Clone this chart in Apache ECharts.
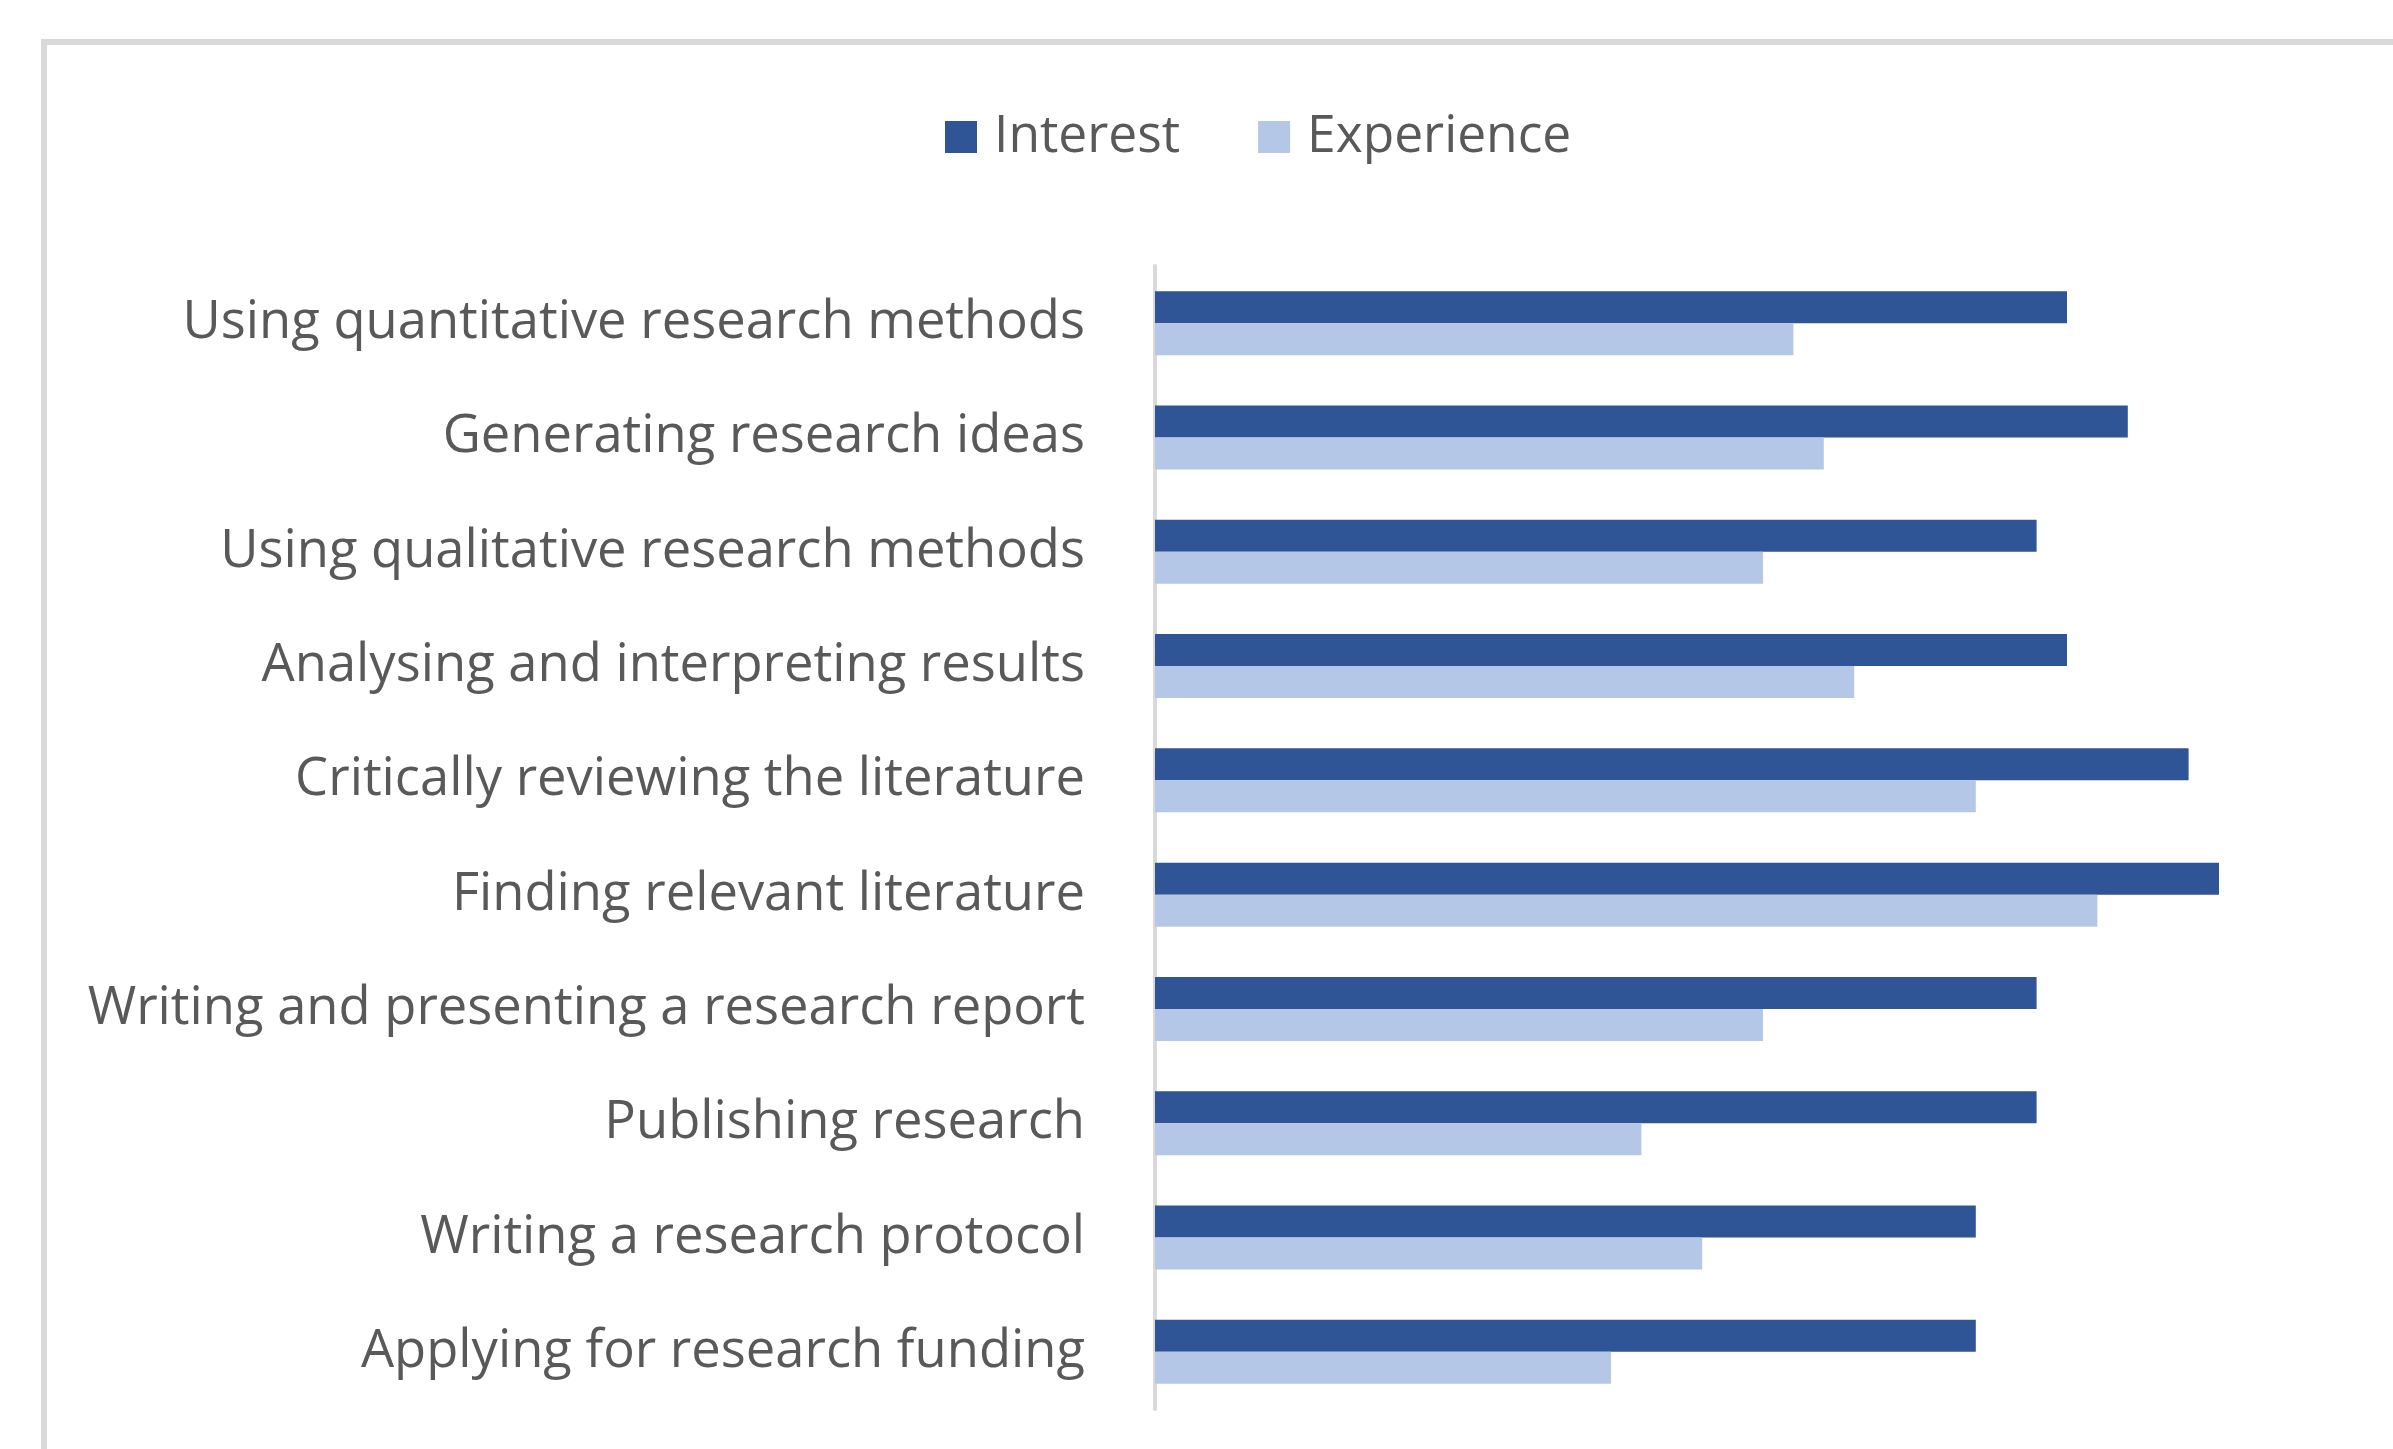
<!DOCTYPE html>
<html>
<head>
<meta charset="utf-8">
<script src="https://cdn.jsdelivr.net/npm/echarts@6/dist/echarts.min.js"></script>
<style>
  html, body { margin: 0; padding: 0; background: #fff; }
  #chart { width: 2393px; height: 1449px; }
</style>
</head>
<body>
<div id="chart"></div>
<script>
var chart = echarts.init(document.getElementById('chart'), null, { renderer: 'canvas' });

// categories, top to bottom
var skills = [
    'Using quantitative research methods',
    'Generating research ideas',
    'Using qualitative research methods',
    'Analysing and interpreting results',
    'Critically reviewing the literature',
    'Finding relevant literature',
    'Writing and presenting a research report',
    'Publishing research',
    'Writing a research protocol',
    'Applying for research funding'
];
var interest = [30, 32, 29, 30, 34, 35, 29, 29, 27, 27];
var experience = [21, 22, 20, 23, 27, 31, 20, 16, 18, 15];

var labelFont = '"Open Sans", "Noto Sans", sans-serif';

chart.setOption({
    backgroundColor: '#ffffff',
    animation: false,
    // chart frame (only top and left edges are visible in the crop)
    graphic: [{
        type: 'rect',
        shape: { x: 44, y: 42, width: 3000, height: 3000 },
        style: { fill: 'none', stroke: '#d9d9d9', lineWidth: 6 },
        silent: true
    }],
    legend: {
        left: 940,
        top: 106,
        itemWidth: 32,
        itemHeight: 32,
        itemGap: 78,
        icon: 'rect',
        data: ['Interest', 'Experience'],
        textStyle: {
            color: '#595959',
            fontSize: 51.5,
            fontFamily: labelFont,
            padding: [0, 0, 0, 12]
        }
    },
    grid: {
        left: 1155,
        right: 22,
        top: 266,
        bottom: 40,
        containLabel: false
    },
    xAxis: {
        type: 'value',
        min: 0,
        max: 40,
        show: false,
        splitLine: { show: false }
    },
    yAxis: {
        type: 'category',
        inverse: true,
        data: skills,
        axisTick: { show: false },
        axisLine: { lineStyle: { color: '#d9d9d9', width: 4 } },
        axisLabel: {
            color: '#595959',
            fontSize: 52.5,
            fontFamily: labelFont,
            margin: 70,
            padding: [8, 0, 0, 0]
        }
    },
    series: [
        {
            name: 'Interest',
            type: 'bar',
            data: interest,
            barWidth: 32,
            barGap: '0%',
            itemStyle: { color: '#2f5597' }
        },
        {
            name: 'Experience',
            type: 'bar',
            data: experience,
            barWidth: 32,
            barGap: '0%',
            itemStyle: { color: '#b4c7e7' }
        }
    ]
});
</script>
</body>
</html>
